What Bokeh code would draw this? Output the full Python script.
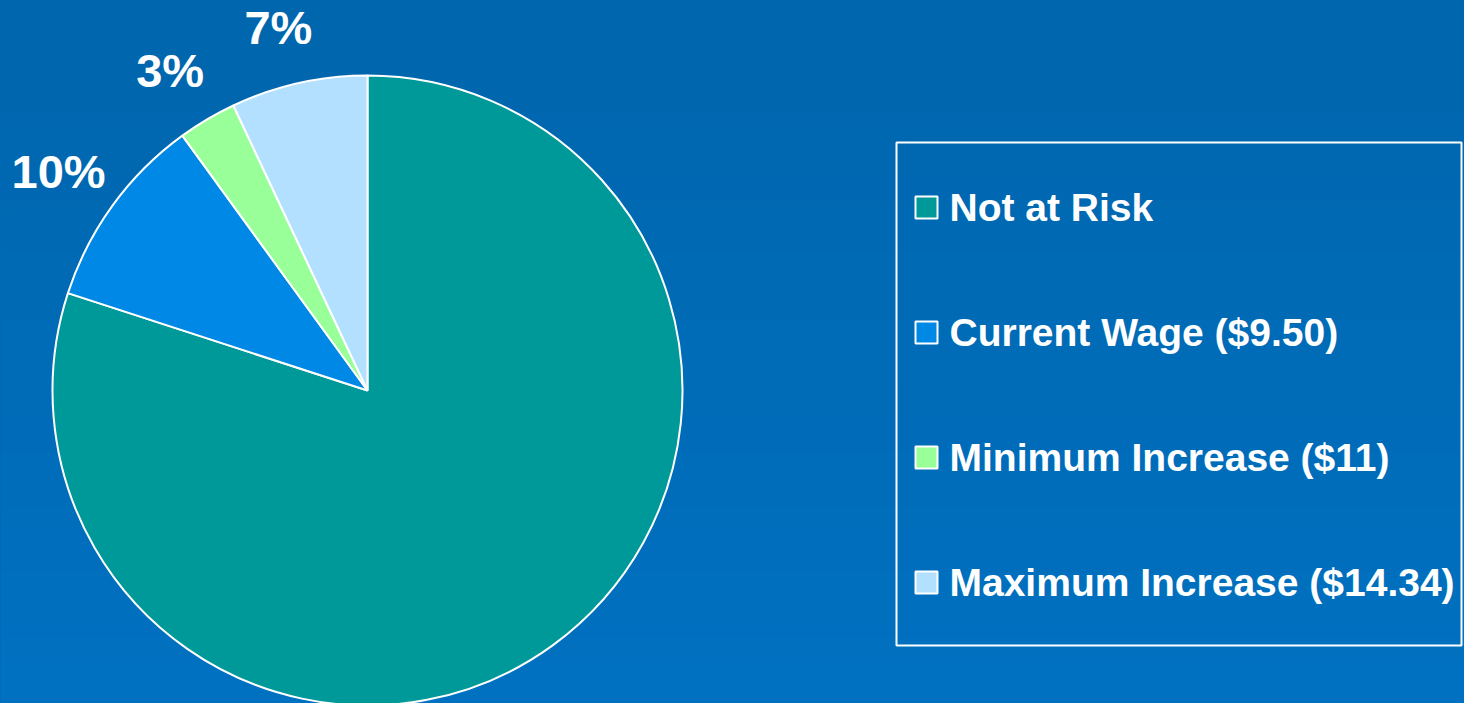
import numpy as np
from bokeh.plotting import figure
from bokeh.models import Range1d, ColumnDataSource
from bokeh.core.properties import value
from bokeh.embed import file_html
from bokeh.resources import INLINE

# ---- data ----
categories = ["Not at Risk", "Current Wage ($9.50)", "Minimum Increase ($11)", "Maximum Increase ($14.34)"]
shares = [80, 10, 3, 7]
colors = ["#009999", "#0088E6", "#99FF99", "#B3E0FF"]
pct_labels = ["", "10%", "3%", "7%"]

# ---- layout ----
W, H = 1464, 703
FONT = "Liberation Sans"
cx, cy, R = 367, 313, 315          # pie centre/radius in frame px
label_r = 372

p = figure(width=W, height=H, output_backend="svg", toolbar_location=None,
           x_range=Range1d(0, W), y_range=Range1d(0, H), min_border=0)
p.axis.visible = False
p.grid.visible = False
p.outline_line_color = None
p.background_fill_color = "#0068B0"
p.border_fill_color = "#0068B0"

# vertical gradient background
top = np.array([0x00, 0x66, 0xAD], float)
bot = np.array([0x00, 0x71, 0xC1], float)
n = 64
img = np.empty((n, 1), dtype=np.uint32)
view = img.view(dtype=np.uint8).reshape((n, 1, 4))
for i in range(n):
    t = i / (n - 1)  # row 0 is bottom
    c = bot * (1 - t) + top * t
    view[i, 0, :3] = c.astype(np.uint8)
    view[i, 0, 3] = 255
p.image_rgba(image=[img], x=0, y=0, dw=W, dh=H)

# ---- pie (clockwise from 12 o'clock) ----
fr = np.array(shares, float) / sum(shares)
ang = 2 * np.pi * fr
ends = np.pi / 2 - np.concatenate([[0], np.cumsum(ang)[:-1]])
starts = ends - ang
src = ColumnDataSource(dict(start=starts, end=ends, color=colors, cat=categories))
p.wedge(x=cx, y=cy, radius=R, start_angle="start", end_angle="end",
        fill_color="color", line_color="white", line_width=2, source=src)

# percentage labels
mid = (starts + ends) / 2
lx = cx + label_r * np.cos(mid)
ly = cy + label_r * np.sin(mid)
lab = [(x, y, t) for x, y, t in zip(lx, ly, pct_labels) if t]
p.text(x=[a[0] for a in lab], y=[a[1] for a in lab], text=[a[2] for a in lab],
       text_font=value(FONT), text_font_style="bold", text_font_size="47px",
       text_color="white", text_align="center", text_baseline="middle",
       x_offset=-8)

# ---- legend box ----
bx0, bx1, by0, by1 = 896, 1461, 58, 561
p.quad(left=bx0, right=bx1, bottom=by0, top=by1, fill_color=None,
       line_color="white", line_width=2)
row_y = [496 - 125 * i for i in range(len(categories))]
p.rect(x=[926] * len(categories), y=row_y, width=22, height=22,
       fill_color=colors, line_color="white", line_width=2)
p.text(x=[949] * len(categories), y=row_y, text=categories,
       text_font=value(FONT), text_font_style="bold", text_font_size="39px",
       text_color="white", text_align="left", text_baseline="middle")

html = file_html(p, INLINE)
html = html.replace("</head>", "<style>html,body{background:#006BB5;}</style></head>", 1)
open("out.html", "w").write(html)
